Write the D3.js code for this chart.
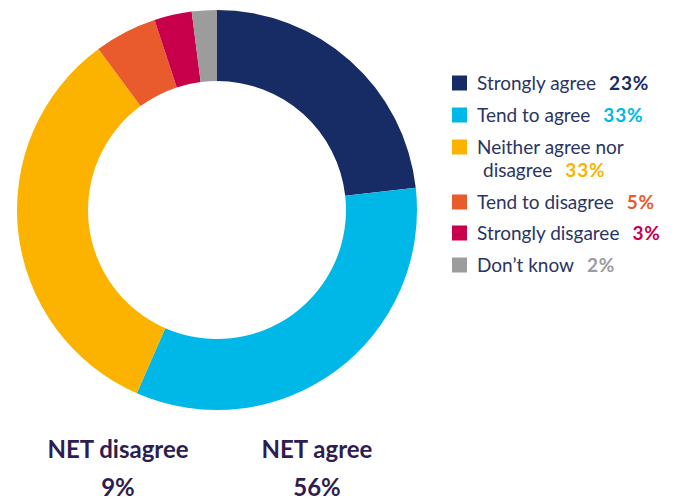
<!DOCTYPE html>
<html>
<head>
<meta charset="utf-8">
<script src="https://cdn.jsdelivr.net/npm/d3@7"></script>
<style>
  html, body { margin: 0; padding: 0; background: #fff; }
  svg { display: block; font-family: Lato, "Open Sans", sans-serif; }
</style>
</head>
<body>
<svg id="chart" width="674" height="502"></svg>
<script>
// Survey response shares (percent)
const categories = ["Strongly agree", "Tend to agree", "Neither agree nor disagree", "Tend to disagree", "Strongly disgaree", "Don\u2019t know"];
const legendLines = [["Strongly agree"], ["Tend to agree"], ["Neither agree nor", "disagree"], ["Tend to disagree"], ["Strongly disgaree"], ["Don\u2019t know"]];
const values = [23, 33, 33, 5, 3, 2];
const colors = ["#172c64", "#00b8e8", "#fbb300", "#e95b2c", "#c8004c", "#9c9c9c"];
const netLabels = ["NET disagree", "NET agree"];
const netValues = [9, 56];

const svg = d3.select("#chart");
const cx = 217, cy = 210, outerR = 200, innerR = 129;

const pie = d3.pie().sort(null).value(d => d.value);
const arc = d3.arc().innerRadius(innerR).outerRadius(outerR);
const data = categories.map((c, i) => ({ name: c, value: values[i], color: colors[i] }));

svg.append("g")
  .attr("transform", `translate(${cx},${cy})`)
  .selectAll("path")
  .data(pie(data))
  .join("path")
  .attr("d", arc)
  .attr("fill", d => d.data.color);

// Legend
const legendRowsY = [83, 115, 147, 202, 233, 265];
const legend = svg.append("g");
data.forEach((d, i) => {
  const y = legendRowsY[i];
  legend.append("rect")
    .attr("x", 452).attr("y", y - 7.5)
    .attr("width", 15).attr("height", 15)
    .attr("fill", d.color);
  const lines = legendLines[i];
  let lastText;
  lines.forEach((ln, j) => {
    lastText = legend.append("text")
      .attr("x", j === 0 ? 477 : 483)
      .attr("y", y + j * 23)
      .attr("dy", "0.35em")
      .attr("fill", "#2a3463")
      .attr("font-size", 19)
      .text(ln);
  });
  const bb = lastText.node().getBBox();
  legend.append("text")
    .attr("x", bb.x + bb.width + 13)
    .attr("y", y + (lines.length - 1) * 23)
    .attr("dy", "0.35em")
    .attr("fill", d.color)
    .attr("font-size", 19)
    .attr("font-weight", 700)
    .attr("letter-spacing", 0.8)
    .text(d.value + "%");
});

// NET summary labels
const netX = [118, 317];
netLabels.forEach((lab, i) => {
  svg.append("text")
    .attr("x", netX[i]).attr("y", 458)
    .attr("text-anchor", "middle")
    .attr("fill", "#2e1d4f")
    .attr("font-size", 24)
    .attr("font-weight", 700)
    .text(lab);
  svg.append("text")
    .attr("x", netX[i]).attr("y", 496)
    .attr("text-anchor", "middle")
    .attr("fill", "#2e1d4f")
    .attr("font-size", 24)
    .attr("font-weight", 700)
    .text(netValues[i] + "%");
});
</script>
</body>
</html>
